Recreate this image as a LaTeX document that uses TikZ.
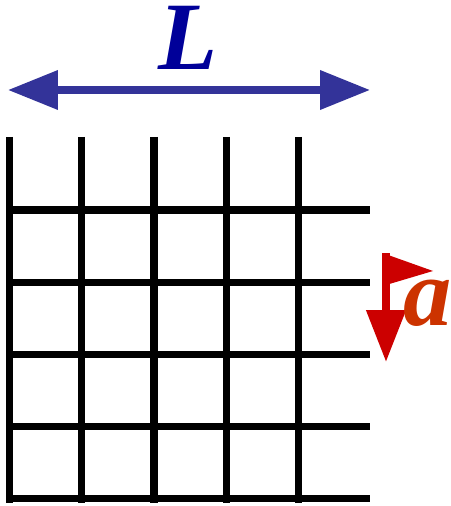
\documentclass[tikz,border=0pt]{standalone}
\usepackage{fontspec}
\setmainfont{Liberation Serif}
\usetikzlibrary{arrows.meta}
\definecolor{spanblue}{HTML}{333399}
\definecolor{lenblue}{HTML}{000099}
\definecolor{stepred}{HTML}{CC0000}
\definecolor{labred}{HTML}{CC3300}
\tikzset{
  gridline/.style={line width=4.1pt,draw=black},
  span/.style={{Triangle[length=10mm,width=7.6mm]}-{Triangle[length=10mm,width=7.6mm]},
               line width=4pt,draw=spanblue},
  spacing/.style={-{Triangle[length=10.4mm,width=7.6mm]},line width=4.4pt,draw=stepred},
  biglabel/.style={font=\fontsize{55}{60}\selectfont\bfseries\itshape,inner sep=0pt,
                   text height=0.68em,text depth=0pt}
}

\begin{document}
\begin{tikzpicture}[x=0.02cm,y=-0.02cm]
  \useasboundingbox (0,0) rectangle (450,506);
  % lattice
  \foreach \i in {0,...,4}
    \draw[gridline] ({9.5+72.2*\i},137) -- ({9.5+72.2*\i},503);
  \foreach \j in {0,...,4}
    \draw[gridline] (6,{210+72.2*\j}) -- (370,{210+72.2*\j});

  % system size
  \coordinate (Lwest) at (8,90);
  \coordinate (Least) at (370,90);
  \draw[span] (Lwest) -- (Least);
  \node[biglabel,text=lenblue,anchor=base] (Llabel) at (188,70) {L};

  % lattice spacing
  \coordinate (atop) at (386,253);
  \coordinate (abot) at (386,362);
  \draw[spacing] (atop) -- (abot);
  \fill[stepred] (atop) ++(-3.5,0) -- ++(50.5,18) -- ++(-47,14) -- cycle;
  \node[biglabel,text=labred,anchor=base west] (alabel) at (403,325) {a};
\end{tikzpicture}
\end{document}
